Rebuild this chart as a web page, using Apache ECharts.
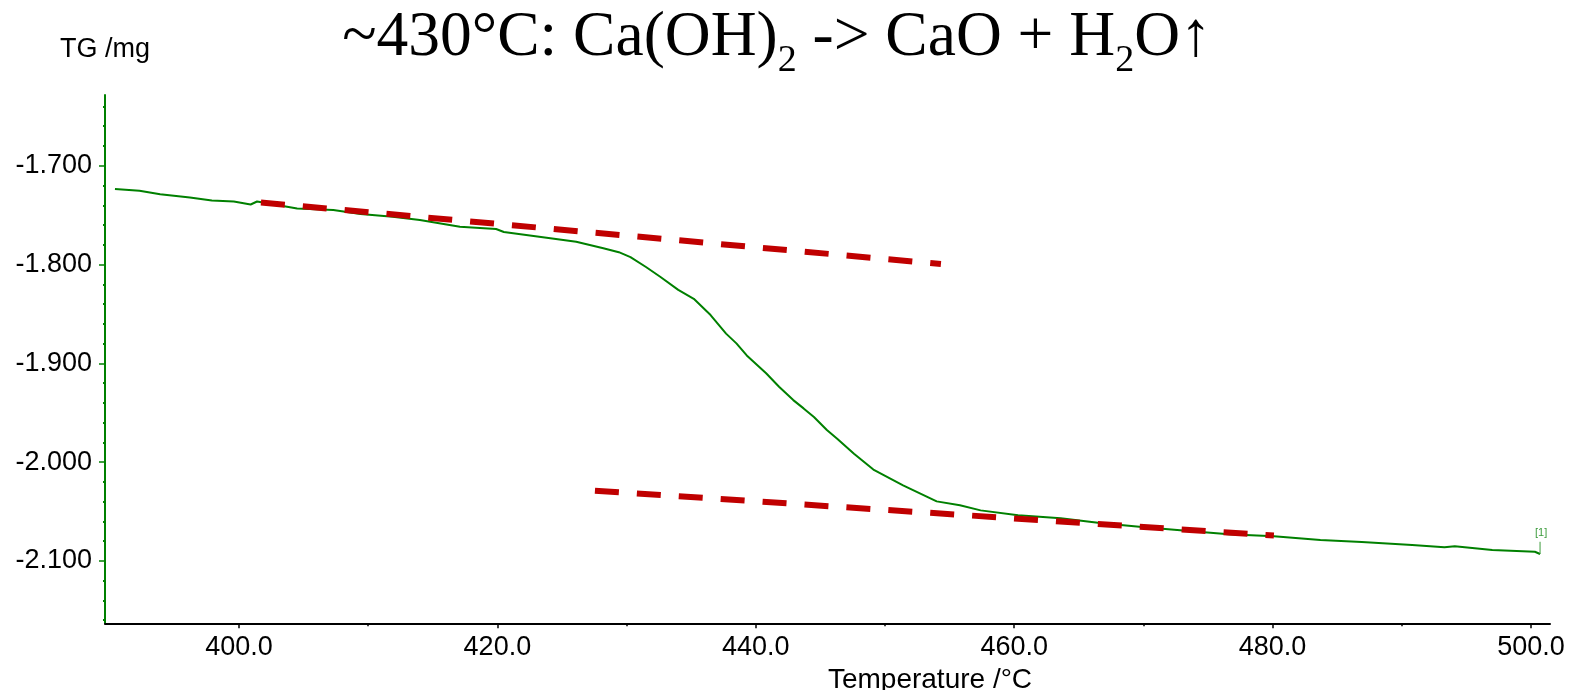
<!DOCTYPE html>
<html><head><meta charset="utf-8">
<script src="https://cdn.jsdelivr.net/npm/echarts@6/dist/echarts.min.js"></script>
<style>html,body{margin:0;padding:0;background:#fff}#c{width:1580px;height:690px}</style>
</head><body><div id="c"></div>
<script>
const temperature = [390.4, 392.3, 393.9, 396.2, 397.9, 399.6, 400.9, 401.4, 404.5, 407.3, 409.4, 411.9, 414.0, 417.1, 419.9, 420.5, 424.1, 426.1, 428.2, 429.4, 430.3, 431.5, 432.6, 434.0, 435.2, 436.5, 437.7, 438.5, 439.3, 440.8, 441.8, 442.9, 443.7, 444.5, 445.5, 446.3, 447.6, 449.1, 451.4, 454.0, 455.8, 457.4, 460.3, 463.6, 466.8, 470.1, 473.3, 476.6, 480.1, 483.7, 486.9, 490.8, 493.3, 494.1, 497.0, 500.3, 500.7];
const tgMass = [-1.7236, -1.7253, -1.7289, -1.7322, -1.7352, -1.7362, -1.7392, -1.7362, -1.7432, -1.7449, -1.7489, -1.7516, -1.7550, -1.7618, -1.7640, -1.7670, -1.7734, -1.7770, -1.7836, -1.7875, -1.7925, -1.8025, -1.8124, -1.8256, -1.8347, -1.8511, -1.8699, -1.8798, -1.8920, -1.9100, -1.9237, -1.9372, -1.9456, -1.9543, -1.9675, -1.9764, -1.9915, -2.0075, -2.0235, -2.0397, -2.0437, -2.0488, -2.0538, -2.0568, -2.0618, -2.0659, -2.0695, -2.0729, -2.0749, -2.0789, -2.0809, -2.0839, -2.0862, -2.0852, -2.0890, -2.0907, -2.0930];
const upperTangentT = [401.7, 454.33];
const upperTangentTG = [-1.7372, -1.7995];
const lowerTangentT = [427.55, 480.1];
const lowerTangentTG = [-2.0289, -2.0743];
const markerT = [500.7, 500.7];
const markerTG = [-2.0930, -2.0806];
const markerText = '[1]';
const xMajorTicks = [400, 420, 440, 460, 480, 500];
const xMinorTicks = [410, 430, 450, 470, 490];
const yMajorTicks = [-1.7, -1.8, -1.9, -2.0, -2.1];
const yMinorTicks = [-1.64, -1.66, -1.68, -1.72, -1.74, -1.76, -1.78, -1.82, -1.84, -1.86, -1.88, -1.92, -1.94, -1.96, -1.98, -2.02, -2.04, -2.06, -2.08, -2.12, -2.14, -2.16];
const xRange = [389.63, 501.47];
const yRange = [-2.1631, -1.6284];
const titleParts = ['~430°C: Ca(OH)', '2', ' -> CaO + H', '2', 'O↑'];
const yName = 'TG /mg';
const xName = 'Temperature /°C';

const GREEN = '#008000';
const RED = '#c00000';
const SANS = 'Liberation Sans, Arial, sans-serif';
const SERIF = 'Liberation Serif, Times New Roman, serif';

const zip = (a, b) => a.map((v, i) => [v, b[i]]);
const chart = echarts.init(document.getElementById('c'), null, {renderer: 'canvas'});

const titleText = '{a|' + titleParts[0] + '}{s|' + titleParts[1] + '}{a|' + titleParts[2] + '}{s|' + titleParts[3] + '}{a|' + titleParts[4] + '}';

chart.setOption({
  animation: false,
  backgroundColor: '#ffffff',
  title: {
    text: titleText,
    left: 777, top: -4, textAlign: 'center', padding: 0,
    textStyle: {
      fontWeight: 'normal',
      rich: {
        a: {fontFamily: SERIF, fontSize: 63.5, fontWeight: 'normal', color: '#000', lineHeight: 84},
        s: {fontFamily: SERIF, fontSize: 38, fontWeight: 'normal', color: '#000', lineHeight: 84, verticalAlign: 'bottom'}
      }
    }
  },
  grid: {left: 105, right: 30, top: 95, bottom: 66.7, containLabel: false, outerBoundsMode: 'none'},
  xAxis: [{
    type: 'value', min: xRange[0], max: xRange[1],
    name: xName, nameLocation: 'middle', nameGap: 35,
    nameTextStyle: {fontFamily: SANS, fontSize: 28, color: '#000', padding: [0, 0, 0, 205]},
    axisLine: {show: true, onZero: false, lineStyle: {color: '#000', width: 2}},
    axisTick: {show: true, customValues: xMajorTicks, length: 5, lineStyle: {color: '#000', width: 1.5}},
    axisLabel: {customValues: xMajorTicks, formatter: v => v.toFixed(1), fontFamily: SANS, fontSize: 27, color: '#000', margin: 11},
    splitLine: {show: false}
  }, {
    type: 'value', min: xRange[0], max: xRange[1], position: 'bottom',
    axisLine: {show: false},
    axisTick: {show: true, customValues: xMinorTicks, length: 3, lineStyle: {color: '#000', width: 1.5}},
    axisLabel: {show: false},
    splitLine: {show: false}
  }],
  yAxis: [{
    type: 'value', min: yRange[0], max: yRange[1],
    name: yName, nameLocation: 'end', nameGap: 32,
    nameTextStyle: {fontFamily: SANS, fontSize: 27, color: '#000', align: 'center'},
    axisLine: {show: true, onZero: false, lineStyle: {color: GREEN, width: 2}},
    axisTick: {show: true, customValues: yMajorTicks, length: 6, lineStyle: {color: GREEN, width: 1.5}},
    axisLabel: {customValues: yMajorTicks, formatter: v => v.toFixed(3), fontFamily: SANS, fontSize: 27, color: '#000', margin: 13},
    splitLine: {show: false}
  }, {
    type: 'value', min: yRange[0], max: yRange[1], position: 'left',
    axisLine: {show: false},
    axisTick: {show: true, customValues: yMinorTicks, length: 2, lineStyle: {color: GREEN, width: 2}},
    axisLabel: {show: false},
    splitLine: {show: false}
  }],
  series: [{
    type: 'line', xAxisIndex: 0, yAxisIndex: 0,
    data: zip(temperature, tgMass),
    showSymbol: false, symbol: 'none',
    lineStyle: {color: GREEN, width: 2},
    z: 3
  }, {
    type: 'line', xAxisIndex: 0, yAxisIndex: 0,
    data: zip(markerT, markerTG),
    showSymbol: false, symbol: 'none',
    lineStyle: {color: '#3c9c3c', width: 1},
    endLabel: {show: true, formatter: markerText, color: '#3c9c3c', fontFamily: SANS, fontSize: 11, offset: [-13, -9]},
    z: 3
  }, {
    type: 'line', xAxisIndex: 0, yAxisIndex: 0,
    data: zip(upperTangentT, upperTangentTG),
    showSymbol: false, symbol: 'none',
    lineStyle: {color: RED, width: 6, type: [24, 18], cap: 'butt'},
    z: 4
  }, {
    type: 'line', xAxisIndex: 0, yAxisIndex: 0,
    data: zip(lowerTangentT, lowerTangentTG),
    showSymbol: false, symbol: 'none',
    lineStyle: {color: RED, width: 6, type: [24, 18], cap: 'butt'},
    z: 4
  }]
});
</script></body></html>
